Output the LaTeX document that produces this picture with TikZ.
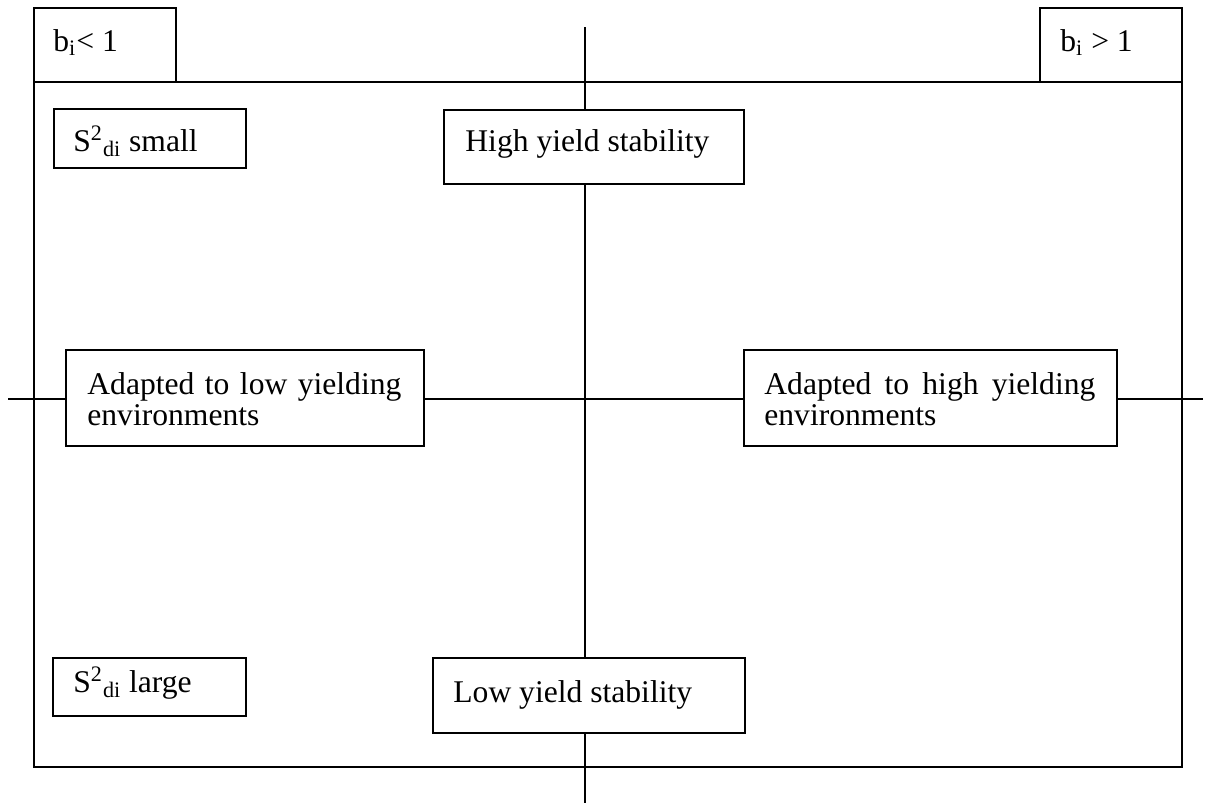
\documentclass[tikz,border=0pt]{standalone}
\usepackage{fontspec}
\setmainfont{Liberation Serif}
\usetikzlibrary{calc}
\begin{document}
\begin{tikzpicture}[x=0.5pt,y=-0.5pt,
  every node/.style={font=\fontsize{15.8}{16}\selectfont},
  ln/.style={line width=0.9pt},
  box/.style={draw, line width=0.9pt, fill=white, inner sep=0pt, anchor=north west},
  txt/.style={inner sep=0pt, anchor=base west}]
\useasboundingbox (0,0) rectangle (1210,803);
% axes
\coordinate (vt) at (585,27);
\coordinate (vb) at (585,803);
\coordinate (hl) at (8,399);
\coordinate (hr) at (1203,399);
% outer frame and tabs
\node[box, fill=none, minimum width=574pt, minimum height=342.5pt] (frame) at (33,81) {};
\node[box, fill=none, minimum width=71pt, minimum height=37pt] (tabL) at (33,7) {};
\node[box, fill=none, minimum width=71pt, minimum height=37pt] (tabR) at (1039,7) {};
\draw[ln] (vt) -- (vb);
\draw[ln] (hl) -- (hr);
% boxes
\node[box, minimum width=96pt, minimum height=29.5pt] (small) at (53,108) {};
\node[box, minimum width=150pt, minimum height=37pt] (high) at (443,109) {};
\node[box, minimum width=179pt, minimum height=48pt] (lowad) at (65,349) {};
\node[box, minimum width=186.5pt, minimum height=48pt] (highad) at (743,349) {};
\node[box, minimum width=96.5pt, minimum height=29pt] (large) at (52,657) {};
\node[box, minimum width=156pt, minimum height=37.5pt] (lowys) at (432,657) {};
% texts
\node[txt] (tL) at (53,51) {b\textsubscript{i}< 1};
\node[txt] (tR) at (1060,51) {b\textsubscript{i} > 1};
\node[txt] (tsmall) at (73,151) {S\textsuperscript{2}\textsubscript{di} small};
\node[txt] (thigh) at (465,151) {High yield stability};
\node[txt] (tlow1) at (87,394) {\makebox[157pt][s]{Adapted to low yielding}};
\node[txt] (tlow2) at (87,425) {environments};
\node[txt] (thi1) at (764,394) {\makebox[165.5pt][s]{Adapted to high yielding}};
\node[txt] (thi2) at (764,425) {environments};
\node[txt] (tlarge) at (73,692) {S\textsuperscript{2}\textsubscript{di} large};
\node[txt] (tlowys) at (453,702) {Low yield stability};
\end{tikzpicture}
\end{document}
